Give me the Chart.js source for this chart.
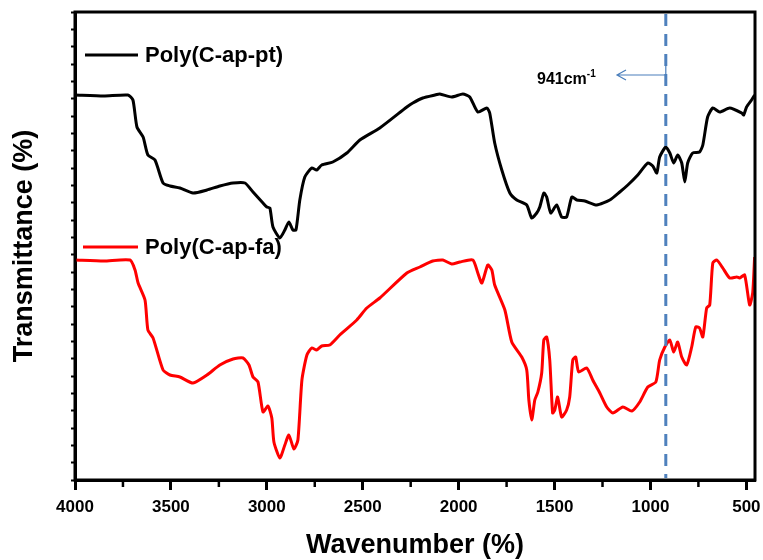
<!DOCTYPE html>
<html>
<head>
<meta charset="utf-8">
<script src="https://cdn.jsdelivr.net/npm/chart.js@4.4.1/dist/chart.umd.min.js"></script>
<style>
  html, body { margin: 0; padding: 0; background: #fff; }
  #wrap { width: 763px; height: 560px; }
</style>
</head>
<body>
<div id="wrap"><canvas id="ftir"></canvas></div>
<script>
// Poly(C-ap-pt) spectrum (wavenumber cm-1, transmittance a.u.)
const ptWave = [4000, 3850, 3724, 3698, 3677, 3645, 3620, 3583, 3541, 3505, 3453, 3385, 3312, 3245, 3176, 3114,
  3072, 3020, 3000, 2984, 2968, 2932, 2906, 2885, 2864, 2848, 2828, 2802, 2766, 2740, 2714, 2656, 2583, 2515,
  2411, 2270, 2239, 2187, 2124, 2098, 2036, 1978, 1942, 1900, 1853, 1838, 1812, 1775, 1733, 1697, 1645, 1619,
  1593, 1577, 1556, 1541, 1520, 1489, 1463, 1437, 1410, 1384, 1342, 1280, 1212, 1160, 1118, 1066, 1014, 988,
  967, 952, 920, 899, 879, 858, 837, 821, 806, 780, 744, 727, 702, 675, 639, 587, 524, 514, 499, 473, 457];
const ptT = [385, 384, 385, 380, 353, 343, 325, 320, 297, 294, 292, 287, 290, 294, 297, 297,
  288, 277, 273, 272, 253, 242, 250, 258, 250, 250, 280, 303, 312, 310, 315, 318, 327, 340,
  352, 373, 377, 382, 385, 386, 383, 386, 383, 368, 372, 367, 337, 310, 287, 280, 275, 262,
  267, 273, 287, 283, 267, 275, 263, 263, 283, 280, 279, 275, 280, 288, 295, 305, 317, 314,
  307, 323, 333, 327, 317, 325, 317, 298, 317, 327, 328, 335, 363, 372, 368, 372, 367, 365, 373, 380, 385];

// Poly(C-ap-fa) spectrum
const faWave = [4000, 3850, 3713, 3687, 3671, 3635, 3620, 3593, 3541, 3505, 3453, 3385, 3312, 3245, 3176, 3124,
  3093, 3072, 3046, 3020, 2994, 2974, 2963, 2932, 2906, 2885, 2859, 2838, 2817, 2791, 2766, 2740, 2714, 2672,
  2620, 2531, 2479, 2411, 2270, 2202, 2135, 2082, 2036, 1994, 1926, 1900, 1879, 1848, 1827, 1812, 1759, 1723,
  1671, 1645, 1634, 1619, 1603, 1587, 1567, 1556, 1541, 1525, 1510, 1499, 1484, 1463, 1437, 1421, 1405, 1390,
  1374, 1332, 1301, 1264, 1228, 1196, 1144, 1097, 1056, 1014, 972, 952, 925, 899, 879, 858, 837, 811, 785,
  764, 744, 727, 707, 691, 675, 654, 623, 587, 550, 535, 509, 483, 467, 457];
const faT = [220, 219, 220, 210, 197, 180, 150, 142, 110, 105, 103, 97, 105, 115, 121, 122,
  115, 103, 98, 68, 74, 62, 38, 22, 35, 45, 31, 40, 100, 125, 132, 130, 134, 135,
  145, 160, 172, 182, 207, 213, 219, 220, 216, 218, 220, 207, 197, 215, 210, 195, 170, 138,
  123, 110, 80, 60, 80, 88, 107, 140, 143, 120, 67, 70, 83, 63, 70, 83, 120, 123,
  108, 112, 100, 87, 73, 67, 73, 69, 78, 93, 98, 120, 133, 140, 128, 138, 123, 115, 133,
  153, 152, 143, 172, 175, 217, 220, 212, 202, 203, 202, 205, 175, 187, 223];

const seriesNames = ['Poly(C-ap-pt)', 'Poly(C-ap-fa)'];
const seriesColors = ['#000000', '#ff0000'];
const xTickValues = [4000, 3500, 3000, 2500, 2000, 1500, 1000, 500];
const markerWave = 920;
const markerLabel = '941cm';

const toPoints = (w, t) => w.map((v, i) => ({ x: v, y: t[i] }));
const FONT = '"Liberation Sans", Arial, sans-serif';

// frame, minor ticks, marker line, arrow note and legend
const extras = {
  id: 'extras',
  afterDatasetsDraw(chart) {
    const { ctx, chartArea: a, scales: { x } } = chart;
    ctx.save();
    // dashed marker line
    const mx = x.getPixelForValue(markerWave);
    ctx.strokeStyle = '#4f81bd';
    ctx.lineWidth = 3;
    ctx.setLineDash([12, 8]);
    ctx.beginPath();
    ctx.moveTo(mx, a.top + 2);
    ctx.lineTo(mx, a.bottom - 2);
    ctx.stroke();
    ctx.setLineDash([]);

    // arrow to the label
    ctx.strokeStyle = '#4a7ebb';
    ctx.lineWidth = 1.2;
    ctx.beginPath();
    ctx.moveTo(mx, 64);
    ctx.lineTo(mx, 75);
    ctx.lineTo(617, 75);
    ctx.moveTo(626, 70);
    ctx.lineTo(617, 75);
    ctx.lineTo(626, 80);
    ctx.stroke();

    ctx.fillStyle = '#000';
    ctx.font = 'bold 16px ' + FONT;
    ctx.textBaseline = 'middle';
    ctx.textAlign = 'left';
    ctx.fillText(markerLabel, 537, 80);
    const w = ctx.measureText(markerLabel).width;
    ctx.font = 'bold 10px ' + FONT;
    ctx.fillText('-1', 537 + w, 74);

    // frame
    ctx.strokeStyle = '#000';
    ctx.lineWidth = 3;
    ctx.strokeRect(a.left, a.top, a.right - a.left, a.bottom - a.top);

    // minor x ticks
    ctx.lineWidth = 2.5;
    for (let v = 3750; v > 455; v -= 500) {
      const px = x.getPixelForValue(v);
      ctx.beginPath();
      ctx.moveTo(px, a.bottom);
      ctx.lineTo(px, a.bottom + 7);
      ctx.stroke();
    }

    // legend entries
    const legendPos = [[85, 55], [83, 247]];
    ctx.font = 'bold 22px ' + FONT;
    seriesNames.forEach((name, i) => {
      const [lx, ly] = legendPos[i];
      ctx.strokeStyle = seriesColors[i];
      ctx.lineWidth = 3;
      ctx.beginPath();
      ctx.moveTo(lx, ly);
      ctx.lineTo(138, ly);
      ctx.stroke();
      ctx.fillStyle = '#000';
      ctx.fillText(name, 145, ly + 1);
    });
    ctx.restore();
  }
};

const ftirCtx = document.getElementById('ftir').getContext('2d');
const ftirChart = new Chart(ftirCtx, {
  type: 'line',
  data: {
    datasets: [
      {
        label: seriesNames[0],
        data: toPoints(ptWave, ptT),
        borderColor: seriesColors[0],
        borderWidth: 3,
        pointRadius: 0,
        tension: 0.2,
        fill: false
      },
      {
        label: seriesNames[1],
        data: toPoints(faWave, faT),
        borderColor: seriesColors[1],
        borderWidth: 3,
        pointRadius: 0,
        tension: 0.2,
        fill: false
      }
    ]
  },
  options: {
    responsive: true,
    maintainAspectRatio: false,
    animation: false,
    layout: { padding: { top: 12, right: 8, left: 0, bottom: 0 } },
    plugins: {
      legend: { display: false },
      tooltip: { enabled: false }
    },
    scales: {
      x: {
        type: 'linear',
        reverse: true,
        min: 455,
        max: 4000,
        afterFit: s => { s.height = 80; s.paddingLeft = 0; s.paddingRight = 0; },
        afterBuildTicks: s => { s.ticks = xTickValues.map(v => ({ value: v })); },
        border: { color: '#000', width: 3 },
        grid: { drawOnChartArea: false, tickLength: 10, tickWidth: 3, tickColor: '#000' },
        ticks: {
          includeBounds: false,
          padding: 7,
          color: '#000',
          callback: v => String(v),
          font: { family: FONT, size: 17, weight: 'bold' }
        },
        title: {
          display: true,
          text: 'Wavenumber (%)',
          color: '#000',
          padding: { top: 0, bottom: 0 },
          font: { family: FONT, size: 27, weight: 'bold', lineHeight: 1.05 }
        }
      },
      y: {
        min: 0,
        max: 468,
        afterFit: s => { s.width = 75; },
        border: { color: '#000', width: 3 },
        grid: { drawOnChartArea: false, tickLength: 4, tickWidth: 2, tickColor: '#000' },
        ticks: { display: false, stepSize: 468 / 27 },
        title: {
          display: true,
          text: 'Transmittance (%)',
          color: '#000',
          padding: { top: 10, bottom: 0 },
          font: { family: FONT, size: 27, weight: 'bold', lineHeight: 1.05 }
        }
      }
    }
  },
  plugins: [extras]
});
</script>
</body>
</html>
